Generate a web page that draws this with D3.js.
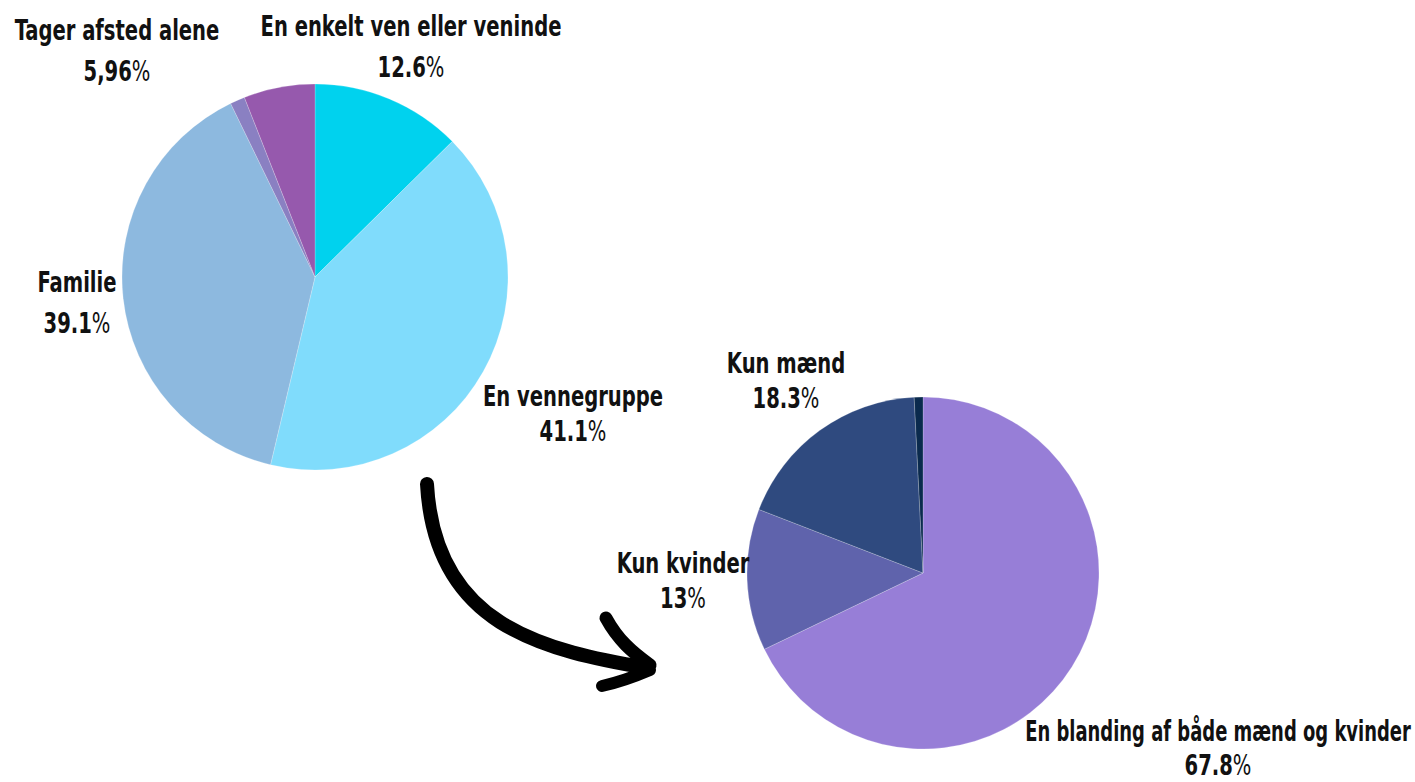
<!DOCTYPE html>
<html><head><meta charset="utf-8">
<script src="https://cdn.jsdelivr.net/npm/d3@7"></script>
<style>
html,body{margin:0;padding:0;background:#fff;}
text{font-family:"DejaVu Sans Condensed","DejaVu Sans",sans-serif;font-stretch:condensed;fill:#111;}
</style></head>
<body>
<svg id="c" width="1415" height="782"></svg>
<script>
// Pie 1: who do you travel with
const categories1 = ["En enkelt ven eller veninde","En vennegruppe","Familie","","Tager afsted alene"];
const values1 = [12.6, 41.1, 39.1, 1.24, 5.96];
const valueLabels1 = ["12.6","41.1","39.1","","5,96"];
const colors1 = ["#00d2ee","#80dcfc","#8db9df","#8a80c2","#9659ad"];

// Pie 2: composition of friend group
const categories2 = ["En blanding af både mænd og kvinder","Kun kvinder","Kun mænd",""];
const values2 = [67.8, 13, 18.3, 0.8];
const valueLabels2 = ["67.8","13","18.3",""];
const colors2 = ["#977ed7","#5f63ac","#2f4a7f","#0a2a4d"];

const W = 1415, H = 782;
const svg = d3.select("#c");

function drawPie(cx, cy, r, values, colors){
  const pie = d3.pie().sort(null).value(d=>d);
  const arc = d3.arc().innerRadius(0).outerRadius(r);
  const g = svg.append("g").attr("transform",`translate(${cx},${cy})`);
  g.selectAll("path").data(pie(values)).join("path")
    .attr("d",arc)
    .attr("fill",(d,i)=>colors[i])
    .attr("stroke","#ffffff").attr("stroke-opacity",0.35).attr("stroke-width",0.6);
}
drawPie(315, 277, 193, values1, colors1);
drawPie(923, 573, 176, values2, colors2);

// Labels (positions chosen per slice)
const labelPos1 = [[411,36],[573,406],[77,292],null,[117,40]];
const labelPos2 = [[1218,741],[683,573],[786,373],null];
const condense = 0.75;

function fitText(t, x, y){
  // condense horizontally, shrinking further if it would overflow the right edge
  const w = t.node().getComputedTextLength();
  let s = condense;
  const maxHalf = Math.min(x - 4, W - 4 - x);
  if (w*s/2 > maxHalf) s = (2*maxHalf)/w;
  t.attr("transform",`translate(${x},${y}) scale(${s},1)`);
}

function drawLabels(cats, vals, pos){
  cats.forEach((c,i)=>{
    if(!pos[i]) return;
    const [x,y] = pos[i];
    const t1 = svg.append("text").attr("text-anchor","middle")
      .attr("font-size",29).attr("font-weight","bold").text(c);
    fitText(t1, x, y);
    let y2 = y+(y>300?35:41);
    y2 = Math.min(y2, H - 7);
    const t = svg.append("text").attr("text-anchor","middle").attr("font-size",29);
    t.append("tspan").attr("font-weight","bold").text(vals[i]);
    t.append("tspan").attr("font-weight","normal").text("%");
    fitText(t, x, y2);
  });
}
drawLabels(categories1, valueLabels1, labelPos1);
drawLabels(categories2, valueLabels2, labelPos2);

// Hand-drawn style arrow
const arrow = svg.append("g").attr("fill","none").attr("stroke","#000").attr("stroke-linecap","round").attr("stroke-linejoin","round");
arrow.append("path")
  .attr("d","M427,484 C430,540 450,590 500,622 C545,650 600,660 648,668")
  .attr("stroke-width",14);
arrow.append("path")
  .attr("d","M606,618 C618,640 632,652 650,665")
  .attr("stroke-width",13);
arrow.append("path")
  .attr("d","M602,686 C620,682 636,676 650,670")
  .attr("stroke-width",12);
</script>
</body></html>
